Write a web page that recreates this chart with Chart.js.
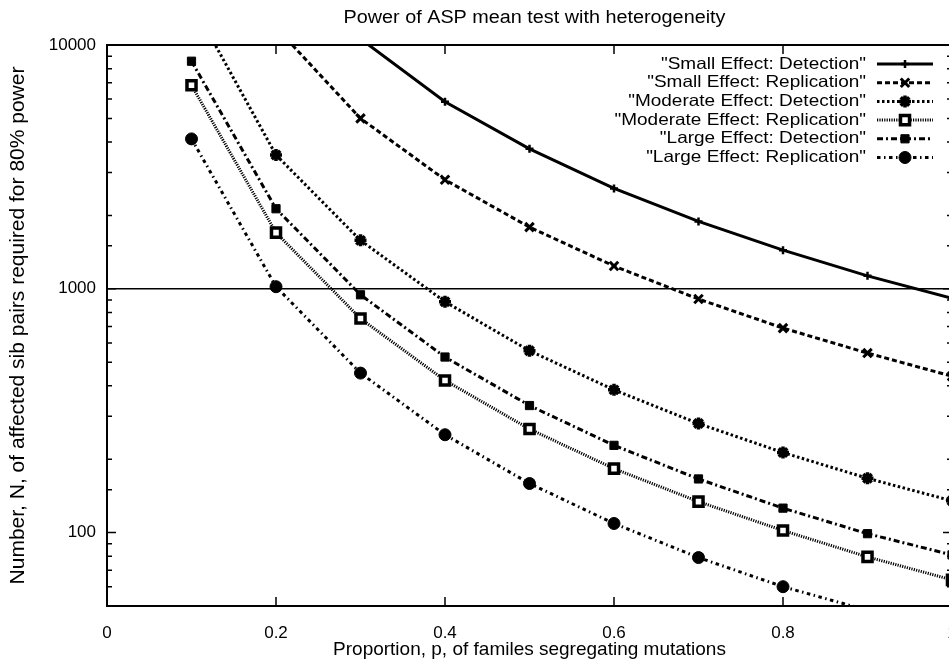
<!DOCTYPE html>
<html>
<head>
<meta charset="utf-8">
<title>Power of ASP mean test with heterogeneity</title>
<script src="https://cdn.jsdelivr.net/npm/chart.js@4.4.0/dist/chart.umd.min.js"></script>
<style>
  html, body { margin: 0; padding: 0; background: #fff; overflow: hidden; width: 949px; height: 668px; }
  #wrap { width: 980px; height: 668px; }
  canvas { display: block; }
</style>
</head>
<body>
<div id="wrap"><canvas id="powerChart" width="980" height="668" style="width:980px;height:668px"></canvas></div>
<script>
// ---------- data ----------
const proportions = [0.1, 0.2, 0.3, 0.4, 0.5, 0.6, 0.7, 0.8, 0.9, 1.0];

const smallDetection    = [null, null, 10600, 5850, 3750, 2580, 1890, 1440, 1130, 915];
const smallReplication  = [null, 11800, 5000, 2800, 1790, 1240, 908, 690, 545, 438];
const moderateDetection = [15000, 3540, 1580, 885, 557, 385, 280, 213, 167, 135];
const moderateReplication = [6840, 1700, 755, 421, 266, 183, 134, 102, 79.5, 64];
const largeDetection    = [8580, 2130, 945, 525, 332, 228, 166, 126, 99, 81];
const largeReplication  = [4120, 1020, 451, 252, 159, 109, 79, 60, 48, null];

const seriesLabels = [
  '"Small Effect: Detection"',
  '"Small Effect: Replication"',
  '"Moderate Effect: Detection"',
  '"Moderate Effect: Replication"',
  '"Large Effect: Detection"',
  '"Large Effect: Replication"'
];

const yTickLabels = [100, 1000, 10000];
const xTickLabels = [0, 0.2, 0.4, 0.6, 0.8, 1];
const Y_MIN = 50, Y_MAX = 10000;

const FONT = '"Liberation Sans", Arial, Helvetica, sans-serif';

// line + marker style per curve
const looks = [
  { dash: [],            style: 'cross',    r: 4,   bw: 2.5, fill: '#000' },
  { dash: [5, 3],        style: 'crossRot', r: 6,   bw: 3,   fill: '#000' },
  { dash: [2.5, 2.5],    style: 'star',     r: 6,   bw: 3.5, fill: '#000' },
  { dash: [1.2, 1.2],    style: 'rect',     r: 6.4, bw: 3.5, fill: '#fff' },
  { dash: [6, 3, 2, 3],  style: 'rect',     r: 5.8, bw: 1,   fill: '#000' },
  { dash: [3.5, 3.5, 1.5, 3.5], style: 'circle', r: 6, bw: 1, fill: '#000' }
];

const seriesValues = [smallDetection, smallReplication, moderateDetection,
  moderateReplication, largeDetection, largeReplication];

const inRange = v => v != null && v >= Y_MIN && v <= Y_MAX;

const datasets = seriesValues.map((vals, i) => ({
  label: seriesLabels[i],
  data: proportions.map((p, k) => ({ x: p, y: vals[k] })),
  borderColor: '#000',
  borderWidth: 3,
  borderDash: looks[i].dash,
  borderCapStyle: 'butt',
  tension: 0,
  spanGaps: false,
  clip: 0,
  pointStyle: looks[i].style,
  pointRadius: ctx => inRange(ctx.raw && ctx.raw.y) ? looks[i].r : 0,
  pointBorderWidth: looks[i].bw,
  pointBorderColor: '#000',
  pointBackgroundColor: looks[i].fill
}));

const isDecade = v => yTickLabels.some(t => Math.abs(t - v) < 1e-6);

// frame, inward ticks on all four sides (gnuplot style)
const frameTicks = {
  id: 'frameTicks',
  afterDraw(chart) {
    const { ctx, chartArea: a, scales: { x, y } } = chart;
    ctx.save();
    ctx.strokeStyle = '#000';
    ctx.lineWidth = 1.5;
    ctx.beginPath();
    y.ticks.forEach(t => {
      const py = y.getPixelForValue(t.value);
      const len = isDecade(t.value) ? 9 : 5;
      ctx.moveTo(a.left, py); ctx.lineTo(a.left + len, py);
      ctx.moveTo(a.right, py); ctx.lineTo(a.right - len, py);
    });
    x.ticks.forEach(t => {
      const px = x.getPixelForValue(t.value);
      ctx.moveTo(px, a.bottom); ctx.lineTo(px, a.bottom - 9);
      ctx.moveTo(px, a.top); ctx.lineTo(px, a.top + 9);
    });
    ctx.stroke();
    ctx.lineWidth = 2;
    ctx.strokeRect(a.left, a.top, a.right - a.left, a.bottom - a.top);
    ctx.restore();
  }
};

// title above the plot and the key in the upper right corner
const keyAndTitle = {
  id: 'keyAndTitle',
  afterDraw(chart) {
    const { ctx, chartArea: a } = chart;

    ctx.save();
    ctx.fillStyle = '#000';
    ctx.font = '18px ' + FONT;
    ctx.textAlign = 'center';
    ctx.textBaseline = 'middle';
    ctx.translate((a.left + a.right) / 2 + 5, 18);
    ctx.scale(1.1, 1);
    ctx.fillText('Power of ASP mean test with heterogeneity', 0, 0);
    ctx.restore();

    const textRight = a.right - 86;
    const lineL = a.right - 75, lineR = a.right - 19;
    chart.data.datasets.forEach((ds, i) => {
      const yy = a.top + 19 + i * 18.7;
      ctx.save();
      ctx.fillStyle = '#000';
      ctx.font = '16.5px ' + FONT;
      ctx.textAlign = 'right';
      ctx.textBaseline = 'middle';
      ctx.translate(textRight, yy);
      ctx.scale(1.15, 1);
      ctx.fillText(ds.label, 0, 0);
      ctx.restore();

      ctx.save();
      ctx.strokeStyle = '#000';
      ctx.lineWidth = 3;
      ctx.setLineDash(looks[i].dash);
      ctx.beginPath();
      ctx.moveTo(lineL, yy);
      ctx.lineTo(lineR, yy);
      ctx.stroke();
      ctx.setLineDash([]);
      ctx.fillStyle = looks[i].fill;
      ctx.lineWidth = looks[i].bw;
      if (Chart.helpers && Chart.helpers.drawPoint) {
        Chart.helpers.drawPoint(ctx, {
          pointStyle: looks[i].style, rotation: 0,
          radius: looks[i].r, borderWidth: looks[i].bw
        }, (lineL + lineR) / 2, yy);
      }
      ctx.restore();
    });
  }
};

new Chart(document.getElementById('powerChart'), {
  type: 'line',
  data: { datasets },
  options: {
    responsive: false,
    maintainAspectRatio: false,
    animation: false,
    events: [],
    // right padding also has to cover the x scale's own label padding
    layout: { padding: { top: 45, right: 28, left: 0, bottom: 0 } },
    plugins: {
      legend: { display: false },
      tooltip: { enabled: false },
      title: { display: false }
    },
    scales: {
      x: {
        type: 'linear',
        min: 0, max: 1,
        afterFit: s => { s.height = 62; },
        afterBuildTicks: s => { s.ticks = xTickLabels.map(v => ({ value: v })); },
        ticks: {
          color: '#000',
          padding: 17,
          maxRotation: 0,
          autoSkip: false,
          font: { family: FONT, size: 17 },
          callback: v => String(Math.round(v * 10) / 10)
        },
        grid: { display: true, drawOnChartArea: false, drawTicks: false },
        border: { color: '#000', width: 2 },
        title: {
          display: true,
          text: 'Proportion, p, of familes segregating mutations',
          color: '#000',
          font: { family: FONT, size: 19 },
          padding: { top: 0, bottom: 7 }
        }
      },
      y: {
        type: 'logarithmic',
        min: Y_MIN, max: Y_MAX,
        afterFit: s => { s.width = 107; },
        ticks: {
          color: '#000',
          padding: 11,
          autoSkip: false,
          font: { family: FONT, size: 17 },
          callback: v => isDecade(v) ? String(v) : ''
        },
        grid: {
          drawTicks: false,
          lineWidth: 1.5,
          color: c => (c.tick && Math.abs(c.tick.value - 1000) < 1e-6) ? '#000' : 'rgba(0,0,0,0)'
        },
        border: { color: '#000', width: 2 },
        title: {
          display: true,
          text: 'Number, N, of affected sib pairs required for 80% power',
          color: '#000',
          font: { family: FONT, size: 21 },
          padding: { top: 6, bottom: 0 }
        }
      }
    }
  },
  plugins: [frameTicks, keyAndTitle]
});
</script>
</body>
</html>
